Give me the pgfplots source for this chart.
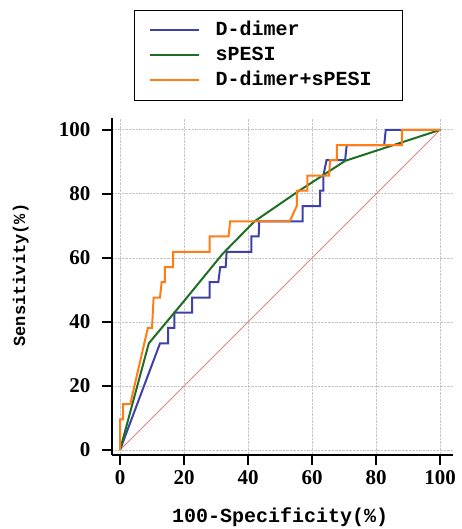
\documentclass[border=0pt]{standalone}
\usepackage{fontspec}
\setmainfont{Liberation Serif}
\newfontfamily\monofont{Liberation Mono}
\usepackage{pgfplots}
\pgfplotsset{compat=1.18}

\definecolor{ddblue}{RGB}{64,64,170}
\definecolor{spgreen}{RGB}{30,110,35}
\definecolor{comborange}{RGB}{255,125,20}
\definecolor{refpink}{RGB}{222,130,140}

\begin{document}
\begin{tikzpicture}
\useasboundingbox (-112pt,-74pt) rectangle (349pt,455pt);
\begin{axis}[
    scale only axis,
    width=341pt, height=337pt,
    xmin=-2.5, xmax=104, ymin=-1.6, ymax=103.7,
    axis lines*=left,
    axis line style={line width=1.8pt},
    xtick={0,20,...,100}, ytick={0,20,...,100},
    tick align=outside,
    major tick length=10pt,
    tick style={black, line width=1.5pt},
    grid=major,
    major grid style={densely dotted, gray!45, line width=0.7pt},
    /pgf/number format/assume math mode=true,
    ticklabel style={font=\bfseries\fontsize{21}{21}\selectfont},
    yticklabel shift=8pt,
    xticklabel shift=2pt,
    xlabel={100-Specificity(\%)},
    xlabel style={font=\monofont\bfseries\fontsize{20}{20}\selectfont,
        at={(axis description cs:0.493,-0.199)}, anchor=base},
    ylabel={Sensitivity(\%)},
    ylabel style={font=\monofont\bfseries\fontsize{17}{17}\selectfont,
        at={(axis description cs:-0.255,0.534)}, anchor=base},
    legend style={
        at={(axis description cs:0.0645,1.0504)}, anchor=south west,
        draw=black, line width=1.2pt,
        font=\monofont\bfseries\fontsize{20}{20}\selectfont,
        inner xsep=14pt, inner ysep=11pt,
        row sep=7pt,
        nodes={inner sep=0pt, text height=14pt, text depth=4pt},
        /tikz/every odd column/.append style={column sep=16pt},
    },
    legend cell align=left,
    legend image code/.code={\draw[#1] (0pt,0pt) -- (49pt,0pt);},
]

% reference line
\addplot[refpink, line width=0.9pt, forget plot] coordinates {(0,0) (100,100)};

% D-dimer
\addplot[ddblue, line width=2pt] coordinates {
    (0,0) (12.5,33.3) (15,33.3) (15,38.1) (17,38.1) (17,42.9) (22.5,42.9)
    (22.5,47.6) (28,47.6) (28,52.4) (30.7,52.4) (31.3,57.1) (33,57.1)
    (33.3,61.9) (41,61.9) (41,66.7) (43.3,66.7) (43.5,71.4) (57,71.4)
    (57,76.2) (62.5,76.2) (62.5,81) (63.5,81) (63.5,85.7) (64.5,90.5)
    (70.3,90.5) (70.8,95.2) (82.5,95.2) (83,100) (100,100)
};
\addlegendentry{D-dimer}

% sPESI
\addplot[spgreen, line width=2pt] coordinates {
    (0,0) (9,33.3) (20,46.5) (32,61.2) (42,71.4) (56,81) (70.3,90.3) (100,100)
};
\addlegendentry{sPESI}

% D-dimer + sPESI
\addplot[comborange, line width=2pt] coordinates {
    (0,0) (0,9.5) (1,9.5) (1,14.3) (3.2,14.3) (8.7,38.1) (10,38.1)
    (10.5,47.6) (12.5,47.6) (13,52.4) (14,52.4) (14,57.1) (16.6,57.1)
    (16.6,61.9) (28,61.9) (28,66.7) (33.9,66.7) (34.4,71.4) (53,71.4)
    (55.2,76.2) (55.2,81) (58.5,81) (58.5,85.7) (65.3,85.7) (65.6,90.5)
    (67.7,90.5) (67.7,95.2) (88,95.2) (88,100) (100,100)
};
\addlegendentry{D-dimer+sPESI\rule{17pt}{0pt}}

\end{axis}
\end{tikzpicture}
\end{document}
